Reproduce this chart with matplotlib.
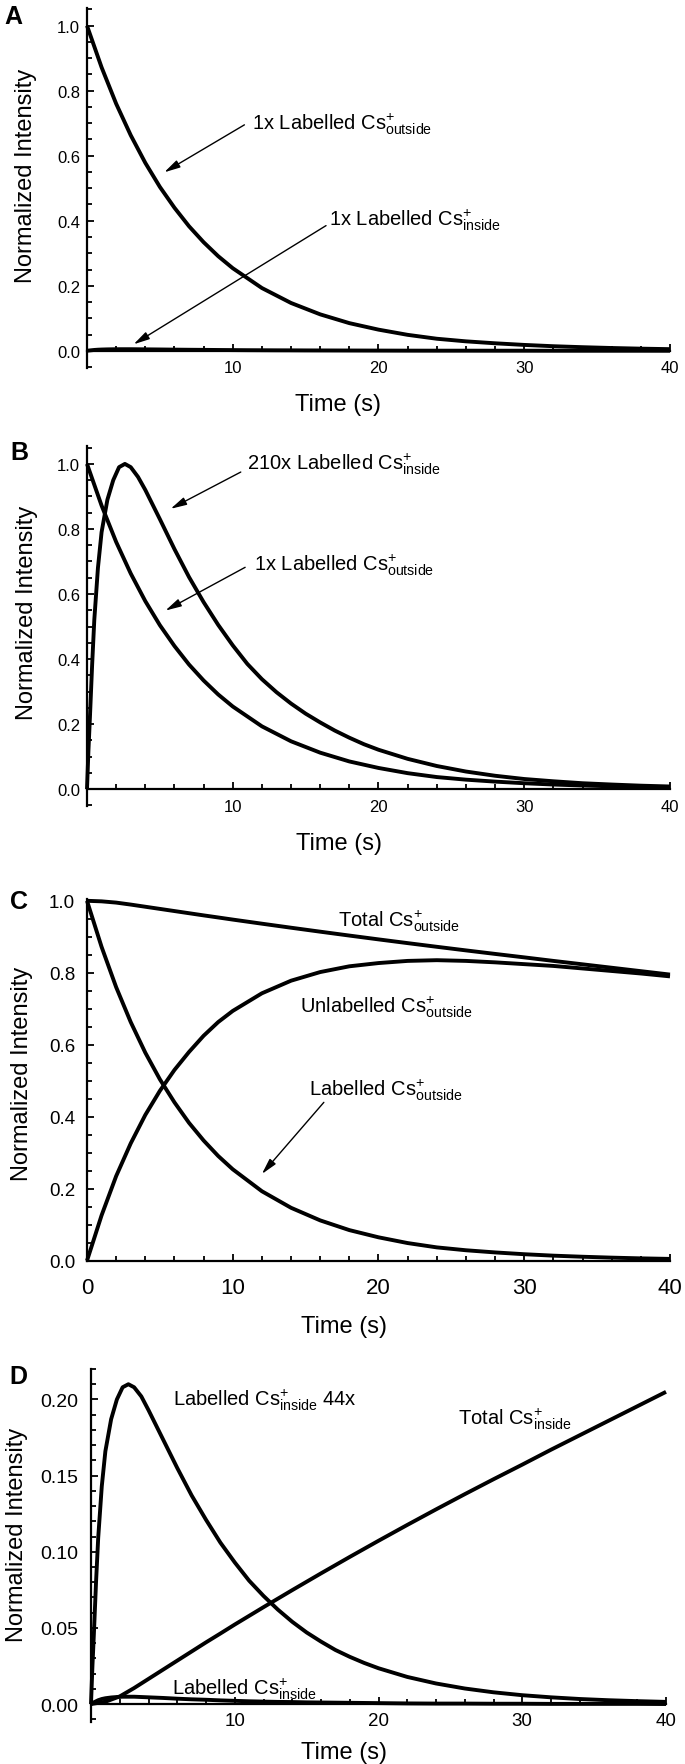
import matplotlib.pyplot as plt
import matplotlib.ticker as mticker

plt.rcParams['font.family'] = ['Liberation Sans', 'DejaVu Sans']
plt.rcParams['mathtext.fontset'] = 'custom'
plt.rcParams['mathtext.rm'] = 'Liberation Sans'
plt.rcParams['mathtext.it'] = 'Liberation Sans:italic'
plt.rcParams['mathtext.bf'] = 'Liberation Sans:bold'

# time grids (s)
t_out = [0, 1, 2, 3, 4, 5, 6, 7, 8, 9, 10, 12, 14, 16, 18, 20, 22, 24, 26, 28, 30, 32, 34, 36, 38, 40]
t_in = [0, 0.1, 0.2, 0.35, 0.5, 0.75, 1.0, 1.4, 1.8, 2.2, 2.6, 3.0, 3.5, 4.0,
        5, 6, 7, 8, 9, 10, 11, 12, 13, 14, 15, 16, 17, 18, 19, 20,
        22, 24, 26, 28, 30, 32, 34, 36, 38, 40]

# labelled Cs+ outside (1x)
lab_out = [1.0, 0.872, 0.760, 0.663, 0.578, 0.504, 0.440, 0.383, 0.334, 0.291, 0.254,
           0.193, 0.147, 0.112, 0.085, 0.065, 0.049, 0.037, 0.029, 0.023, 0.018,
           0.014, 0.011, 0.0085, 0.0065, 0.005]
# total / unlabelled Cs+ outside
tot_out = [1.0, 0.9985, 0.995, 0.9895, 0.9835, 0.9775, 0.9715, 0.9655, 0.9595, 0.9537, 0.9478,
           0.9364, 0.9252, 0.9142, 0.9034, 0.8928, 0.8824, 0.8722, 0.8622, 0.8524, 0.8428,
           0.833, 0.8235, 0.814, 0.8045, 0.795]
unlab_out = [0.0, 0.126, 0.235, 0.326, 0.405, 0.472, 0.53, 0.58, 0.625, 0.663, 0.694,
             0.743, 0.778, 0.802, 0.818, 0.827, 0.833, 0.835, 0.833, 0.829, 0.824,
             0.819, 0.812, 0.805, 0.798, 0.79]
# total Cs+ inside
tot_in = [0, 0.0015, 0.005, 0.0105, 0.0165, 0.0225, 0.0285, 0.0345, 0.0405, 0.0463, 0.0522,
          0.0636, 0.0748, 0.0858, 0.0966, 0.1072, 0.1176, 0.1278, 0.1378, 0.1476, 0.1572,
          0.167, 0.1765, 0.186, 0.1955, 0.205]

# labelled Cs+ inside, 210x (normalised)
lab_in_210 = [0, 0.12, 0.22, 0.38, 0.52, 0.68, 0.79, 0.89, 0.95, 0.99, 1.0, 0.99, 0.96, 0.92,
              0.83, 0.738, 0.652, 0.575, 0.505, 0.442, 0.385, 0.338, 0.298, 0.263, 0.232, 0.205,
              0.18, 0.158, 0.138, 0.121,
              0.093, 0.071, 0.054, 0.041, 0.031, 0.024, 0.018, 0.014, 0.0105, 0.008]
# labelled Cs+ inside, 44x
lab_in_44 = [0, 0.025, 0.046, 0.08, 0.109, 0.143, 0.166, 0.187, 0.2, 0.208, 0.21, 0.208, 0.202, 0.193,
             0.174, 0.155, 0.137, 0.121, 0.106, 0.093, 0.081, 0.071, 0.062, 0.054, 0.047, 0.041,
             0.0355, 0.031, 0.027, 0.0235,
             0.0178, 0.0135, 0.0102, 0.0077, 0.0058, 0.0044, 0.0033, 0.0025, 0.0019, 0.0014]
# labelled Cs+ inside, 1x
lab_in_1x = [0, 0.0006, 0.0011, 0.0018, 0.0025, 0.0033, 0.0038, 0.0043, 0.0046, 0.0048, 0.0048, 0.0048, 0.0046, 0.0044,
             0.004, 0.0035, 0.0031, 0.0028, 0.0024, 0.0021, 0.0018, 0.0016, 0.0014, 0.0013, 0.0011, 0.001,
             0.0009, 0.0008, 0.0007, 0.0006,
             0.0004, 0.0003, 0.0003, 0.0002, 0.0002, 0.0001, 0.0001, 0.0001, 0.0001, 0.0]

W, H = 685, 1765
fig = plt.figure(figsize=(W / 100, H / 100), dpi=100)

def px(x0, y_top, x1, y_bot):
    return [x0 / W, 1 - y_bot / H, (x1 - x0) / W, (y_bot - y_top) / H]

LW = 2.8
arrow = dict(arrowstyle='-|>,head_length=0.8,head_width=0.2', color='k', lw=1.0,
             shrinkA=0, shrinkB=0, mutation_scale=12)
FS_ANN = 14.5

def style(ax, ylim, ymaj, ymin, yfmt, xticks, xfs, yfs, xpad, ypad, zero_axis=True):
    ax.set_xlim(0, 40)
    ax.set_ylim(*ylim)
    for s in ['top', 'right']:
        ax.spines[s].set_visible(False)
    if zero_axis:
        ax.spines['bottom'].set_position(('data', 0))
    for s in ['left', 'bottom']:
        ax.spines[s].set_linewidth(1.6)
    ax.set_xticks(xticks)
    ax.xaxis.set_minor_locator(mticker.MultipleLocator(2))
    ax.yaxis.set_major_locator(mticker.MultipleLocator(ymaj))
    ax.yaxis.set_minor_locator(mticker.MultipleLocator(ymin))
    ax.yaxis.set_major_formatter(mticker.FormatStrFormatter(yfmt))
    ax.tick_params(which='major', direction='in', length=5, width=1.3)
    ax.tick_params(which='minor', direction='in', length=3.5, width=1.3)
    ax.tick_params(axis='x', which='major', labelsize=xfs, pad=xpad)
    ax.tick_params(axis='y', which='major', labelsize=yfs, pad=ypad)

def curve(ax, t, y):
    ax.plot(t, y, color='k', lw=LW, clip_on=False, solid_capstyle='butt')

# ---------- A ----------
axA = fig.add_axes(px(87, 9.3, 670, 369))
curve(axA, t_out, lab_out)
curve(axA, t_in, lab_in_1x)
style(axA, (-0.053, 1.0535), 0.2, 0.05, '%.1f', [10, 20, 30, 40], 12, 12, 7, 5)
axA.text(11.3, 0.684, r'1x Labelled Cs$^{+}_{\mathrm{outside}}$', fontsize=FS_ANN, va='baseline')
axA.annotate('', xy=(5.3, 0.549), xytext=(10.8, 0.695), arrowprops=arrow)
axA.text(16.6, 0.387, r'1x Labelled Cs$^{+}_{\mathrm{inside}}$', fontsize=FS_ANN, va='baseline')
axA.annotate('', xy=(3.2, 0.02), xytext=(16.4, 0.385), arrowprops=arrow)

# ---------- B ----------
axB = fig.add_axes(px(87, 446.7, 670, 807))
curve(axB, t_out, lab_out)
curve(axB, t_in, lab_in_210)
style(axB, (-0.052, 1.056), 0.2, 0.05, '%.1f', [10, 20, 30, 40], 12, 12, 7, 5)
axB.text(11.0, 0.985, r'210x Labelled Cs$^{+}_{\mathrm{inside}}$', fontsize=FS_ANN, va='baseline')
axB.annotate('', xy=(5.74, 0.862), xytext=(10.55, 0.975), arrowprops=arrow)
axB.text(11.45, 0.675, r'1x Labelled Cs$^{+}_{\mathrm{outside}}$', fontsize=FS_ANN, va='baseline')
axB.annotate('', xy=(5.38, 0.549), xytext=(10.85, 0.682), arrowprops=arrow)

# ---------- C ----------
axC = fig.add_axes(px(87, 900, 670, 1261.7))
curve(axC, t_out, tot_out)
curve(axC, t_out, unlab_out)
curve(axC, t_out, lab_out)
style(axC, (0, 1.005), 0.2, 0.05, '%.1f', [0, 10, 20, 30, 40], 16, 13.5, 11.5, 8.5, zero_axis=False)
axC.text(17.2, 0.931, r'Total Cs$^{+}_{\mathrm{outside}}$', fontsize=FS_ANN, va='baseline')
axC.text(14.6, 0.692, r'Unlabelled Cs$^{+}_{\mathrm{outside}}$', fontsize=FS_ANN, va='baseline')
axC.text(15.2, 0.461, r'Labelled Cs$^{+}_{\mathrm{outside}}$', fontsize=FS_ANN, va='baseline')
axC.annotate('', xy=(12.0, 0.241), xytext=(16.25, 0.44), arrowprops=arrow)

# ---------- D ----------
axD = fig.add_axes(px(91, 1370, 666, 1723))
curve(axD, t_in, lab_in_44)
curve(axD, t_out, tot_in)
curve(axD, t_in, lab_in_1x)
style(axD, (-0.0118, 0.220), 0.05, 0.01, '%.2f', [10, 20, 30, 40], 13.5, 14, 6, 9)
axD.text(5.7, 0.1965, r'Labelled Cs$^{+}_{\mathrm{inside}}$ 44x', fontsize=FS_ANN, va='baseline')
axD.text(25.5, 0.184, r'Total Cs$^{+}_{\mathrm{inside}}$', fontsize=FS_ANN, va='baseline')
axD.text(5.6, 0.0072, r'Labelled Cs$^{+}_{\mathrm{inside}}$', fontsize=FS_ANN, va='baseline')

# axis titles and panel letters (pixel positions)
for (x, y) in [(26, 176), (27, 613), (22, 1074), (17, 1535)]:
    fig.text(x / W, 1 - y / H, 'Normalized Intensity', rotation=90, fontsize=17,
             ha='center', va='center')
for (x, y) in [(338, 410.7), (339, 850), (344, 1333), (344, 1759)]:
    fig.text(x / W, 1 - y / H, 'Time (s)', fontsize=17, ha='center', va='baseline')
for letter, (x, y) in zip('ABCD', [(13, 17), (19, 453), (19, 902), (18, 1377)]):
    fig.text(x / W, 1 - y / H, letter, fontsize=18, fontweight='bold', ha='center', va='center')

fig.savefig('out.png', dpi=100)
